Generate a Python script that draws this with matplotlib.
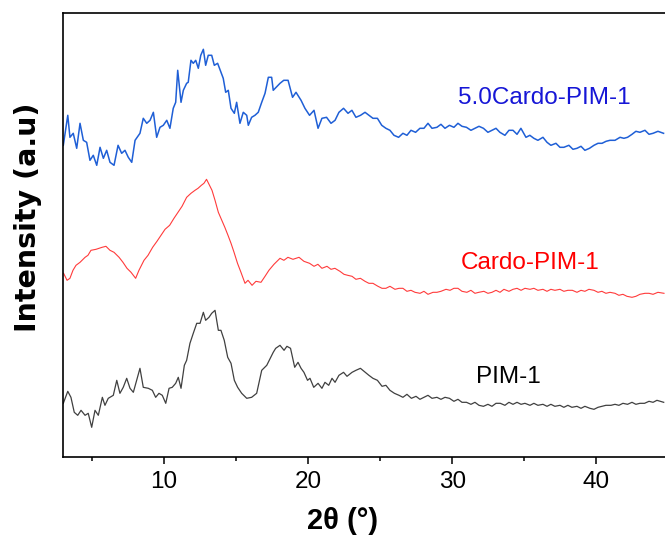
import matplotlib
matplotlib.use("Agg")
import matplotlib.pyplot as plt

plt.rcParams['font.family'] = ['Liberation Sans', 'DejaVu Sans']

# 2theta (deg) and intensity (a.u., stacked)
x_blue = [3.00, 3.31, 3.46, 3.69, 3.93, 4.16, 4.39, 4.62, 4.85, 5.08, 5.32, 5.55, 5.78, 6.01,
          6.24, 6.52, 6.80, 7.05, 7.28, 7.51, 7.75, 7.98, 8.32, 8.55, 8.79, 9.02, 9.25, 9.48,
          9.71, 9.94, 10.18, 10.40, 10.63, 10.80, 10.94, 11.17, 11.33, 11.56, 11.67, 11.86,
          12.02, 12.19, 12.37, 12.54, 12.72, 12.88, 13.06, 13.30, 13.48, 13.71, 13.94, 14.10,
          14.27, 14.45, 14.64, 14.87, 15.03, 15.26, 15.49, 15.73, 15.84, 16.07, 16.30, 16.53,
          16.77, 17.00, 17.23, 17.46, 17.57, 18.04, 18.30, 18.60, 18.91, 19.15, 19.50, 19.77,
          20.09, 20.40, 20.68, 20.95, 21.27, 21.58, 21.86, 22.13, 22.45, 22.76, 23.03, 23.31,
          23.63, 23.94, 24.21, 24.49, 24.80, 25.10, 25.39, 25.67, 25.95, 26.27, 26.57, 26.85,
          27.13, 27.45, 27.75, 28.03, 28.31, 28.59, 28.93, 29.21, 29.49, 29.80, 30.11, 30.39,
          30.67, 30.98, 31.29, 31.57, 31.85, 32.16, 32.47, 32.75, 33.03, 33.30, 33.65, 33.93,
          34.21, 34.49, 34.76, 35.11, 35.38, 35.66, 35.94, 36.29, 36.57, 36.84, 37.19, 37.47,
          37.74, 38.09, 38.37, 38.65, 38.93, 39.20, 39.52, 39.83, 40.11, 40.39, 40.67, 40.94,
          41.29, 41.64, 41.91, 42.16, 42.47, 42.74, 43.02, 43.37, 43.65, 43.93, 44.27, 44.66]
y_blue = [312, 342, 320, 324, 309, 334, 317, 315, 297, 302, 292, 310, 299, 307,
          295, 292, 312, 304, 307, 300, 295, 317, 324, 339, 334, 337, 345, 320,
          330, 332, 337, 329, 349, 355, 387, 355, 367, 374, 375, 397,
          394, 397, 389, 402, 408, 392, 402, 402, 392, 394, 385, 379,
          365, 367, 349, 344, 355, 334, 345, 342, 332, 340, 342, 345,
          355, 364, 380, 380, 367, 374, 377, 377, 360, 365, 357, 349,
          342, 347, 329, 339, 340, 334, 337, 345, 349, 344, 347, 340,
          342, 345, 342, 339, 339, 332, 329, 327, 322, 320, 324, 322,
          327, 325, 329, 329, 334, 329, 330, 333, 329, 332, 330, 334,
          331, 330, 327, 329, 331, 329, 325, 327, 329, 325, 322, 327,
          327, 323, 329, 320, 322, 319, 317, 320, 315, 312, 314, 310,
          310, 312, 308, 309, 311, 307, 309, 312, 314, 314, 316, 317,
          317, 320, 319, 320, 323, 326, 325, 327, 323, 324, 326, 324]

x_red = [3.02, 3.26, 3.46, 3.67, 3.88, 4.16, 4.51, 4.71, 4.92, 5.27, 5.69, 5.96, 6.24, 6.52,
         6.87, 7.14, 7.42, 7.70, 8.02, 8.25, 8.60, 8.88, 9.20, 9.50, 9.78, 10.06, 10.38, 10.68,
         10.96, 11.24, 11.56, 11.86, 12.14, 12.35, 12.58, 12.76, 12.94, 13.11, 13.32, 13.53,
         13.76, 13.94, 14.21, 14.43, 14.64, 14.85, 15.09, 15.33, 15.61, 15.82, 16.10, 16.37,
         16.72, 17.00, 17.27, 17.62, 18.04, 18.31, 18.59, 18.94, 19.36, 19.70, 20.09, 20.40,
         20.67, 20.95, 21.30, 21.58, 21.85, 22.20, 22.48, 22.74, 23.04, 23.31, 23.62, 23.94,
         24.21, 24.49, 24.84, 25.12, 25.39, 25.67, 26.02, 26.30, 26.57, 26.85, 27.13, 27.41,
         27.76, 28.03, 28.31, 28.66, 28.93, 29.21, 29.56, 29.84, 30.11, 30.39, 30.67, 31.01,
         31.29, 31.57, 31.84, 32.19, 32.47, 32.75, 33.03, 33.31, 33.58, 33.93, 34.21, 34.49,
         34.77, 35.04, 35.39, 35.66, 35.94, 36.29, 36.57, 36.84, 37.12, 37.47, 37.74, 38.02,
         38.33, 38.65, 38.93, 39.20, 39.48, 39.83, 40.11, 40.38, 40.66, 40.94, 41.29, 41.56,
         41.84, 42.12, 42.47, 42.74, 43.02, 43.37, 43.65, 43.93, 44.27, 44.69]
y_red = [184, 177, 179, 187, 192, 195, 200, 202, 207, 208, 210, 211, 207, 205,
         200, 195, 189, 185, 179, 187, 197, 202, 210, 216, 222, 228, 232, 239,
         245, 251, 260, 264, 267, 269, 272, 274, 278, 273, 267, 257,
         245, 239, 230, 222, 214, 205, 194, 185, 174, 177, 172, 176,
         175, 181, 187, 193, 199, 197, 200, 198, 200, 196, 194, 191,
         193, 189, 191, 188, 189, 186, 183, 182, 181, 178, 179, 176,
         174, 174, 171, 169, 169, 171, 168, 169, 169, 166, 167, 165,
         164, 166, 163, 165, 165, 166, 168, 167, 169, 169, 166, 165,
         167, 164, 165, 166, 164, 165, 167, 165, 168, 166, 168, 169,
         167, 169, 168, 169, 167, 168, 166, 168, 167, 168, 166, 167,
         167, 165, 167, 166, 168, 167, 165, 166, 164, 165, 164, 162,
         163, 161, 160, 161, 163, 164, 164, 163, 165, 164]

x_black = [3.00, 3.31, 3.53, 3.76, 4.00, 4.23, 4.51, 4.73, 4.97, 5.20, 5.43, 5.71, 5.89, 6.12,
           6.47, 6.71, 6.93, 7.16, 7.40, 7.63, 7.86, 8.09, 8.32, 8.55, 8.90, 9.18, 9.41, 9.64,
           9.87, 10.11, 10.34, 10.56, 10.80, 10.98, 11.17, 11.40, 11.56, 11.79, 12.02, 12.26,
           12.49, 12.72, 12.88, 13.11, 13.30, 13.53, 13.76, 13.94, 14.17, 14.41, 14.64, 14.87,
           15.10, 15.38, 15.73, 16.07, 16.42, 16.77, 17.12, 17.57, 17.74, 18.04, 18.32, 18.52,
           18.77, 19.06, 19.29, 19.50, 19.70, 19.95, 20.12, 20.38, 20.68, 20.95, 21.16, 21.42,
           21.65, 21.86, 22.13, 22.45, 22.69, 23.04, 23.31, 23.62, 23.87, 24.21, 24.49, 24.80,
           25.12, 25.39, 25.67, 25.98, 26.30, 26.57, 26.85, 27.16, 27.48, 27.75, 28.03, 28.31,
           28.59, 28.93, 29.21, 29.49, 29.80, 30.11, 30.39, 30.67, 30.98, 31.29, 31.57, 31.85,
           32.16, 32.47, 32.75, 33.03, 33.33, 33.65, 33.93, 34.21, 34.49, 34.77, 35.04, 35.39,
           35.66, 35.94, 36.29, 36.57, 36.84, 37.12, 37.47, 37.74, 38.02, 38.30, 38.65, 38.93,
           39.20, 39.55, 39.83, 40.11, 40.38, 40.66, 41.01, 41.29, 41.56, 41.84, 42.16, 42.47,
           42.74, 43.02, 43.34, 43.65, 43.93, 44.20, 44.67]
y_black = [54, 66, 60, 45, 42, 47, 42, 44, 30, 47, 42, 60, 52, 59,
           62, 77, 64, 70, 79, 69, 65, 77, 89, 70, 69, 67, 60, 64,
           62, 54, 69, 70, 74, 80, 69, 92, 97, 114, 124, 134,
           134, 145, 137, 140, 144, 147, 127, 127, 117, 100, 94, 77,
           70, 64, 59, 60, 64, 87, 92, 105, 109, 112, 107, 111,
           109, 90, 95, 89, 85, 77, 79, 70, 74, 69, 75, 72,
           79, 75, 82, 85, 81, 85, 87, 89, 86, 82, 79, 77,
           71, 72, 67, 64, 62, 60, 63, 59, 61, 58, 60, 62,
           59, 60, 58, 60, 59, 56, 58, 55, 55, 53, 55, 52,
           51, 53, 51, 54, 54, 52, 55, 53, 55, 53, 54, 52,
           54, 52, 53, 51, 53, 51, 52, 50, 52, 50, 51, 49,
           51, 49, 48, 50, 51, 52, 52, 53, 52, 54, 53, 55,
           53, 54, 54, 56, 55, 57, 55]

labels = ['5.0Cardo-PIM-1', 'Cardo-PIM-1', 'PIM-1']

fig = plt.figure(figsize=(6.65, 5.36), dpi=100)
ax = fig.add_axes([0.0952, 0.1468, 0.910, 0.8295])

ax.plot(x_blue, y_blue, color='#1f5fd6', lw=1.1)
ax.plot(x_red, y_red, color='#ff3b3b', lw=0.8)
ax.plot(x_black, y_black, color='#404040', lw=0.9)

ax.text(36.4, 359, labels[0], color='#1616d6', fontsize=17.5, ha='center', va='center')
ax.text(35.4, 194, labels[1], color='#ff0000', fontsize=17.5, ha='center', va='center')
ax.text(33.9, 80, labels[2], color='black', fontsize=17.5, ha='center', va='center')

ax.set_xlim(3, 45)
ax.set_ylim(0, 444.6)
ax.set_xticks([10, 20, 30, 40])
ax.set_xticks([5, 15, 25, 35], minor=True)
ax.set_yticks([])
ax.tick_params(axis='x', which='major', direction='out', length=5, width=1.1, labelsize=17.5, pad=5)
ax.tick_params(axis='x', which='minor', direction='out', length=3, width=1.1)
for s in ['left', 'bottom', 'top']:
    ax.spines[s].set_linewidth(1.2)
ax.spines['right'].set_visible(False)

ax.set_xlabel('2θ (°)', fontsize=21, fontweight='bold')
ax.xaxis.set_label_coords(0.462, -0.112)
ax.set_ylabel('Intensity (a.u)', fontsize=20.5, fontweight='bold', family='DejaVu Sans')
ax.yaxis.set_label_coords(-0.036, 0.54)

fig.savefig('out.png', dpi=100)
